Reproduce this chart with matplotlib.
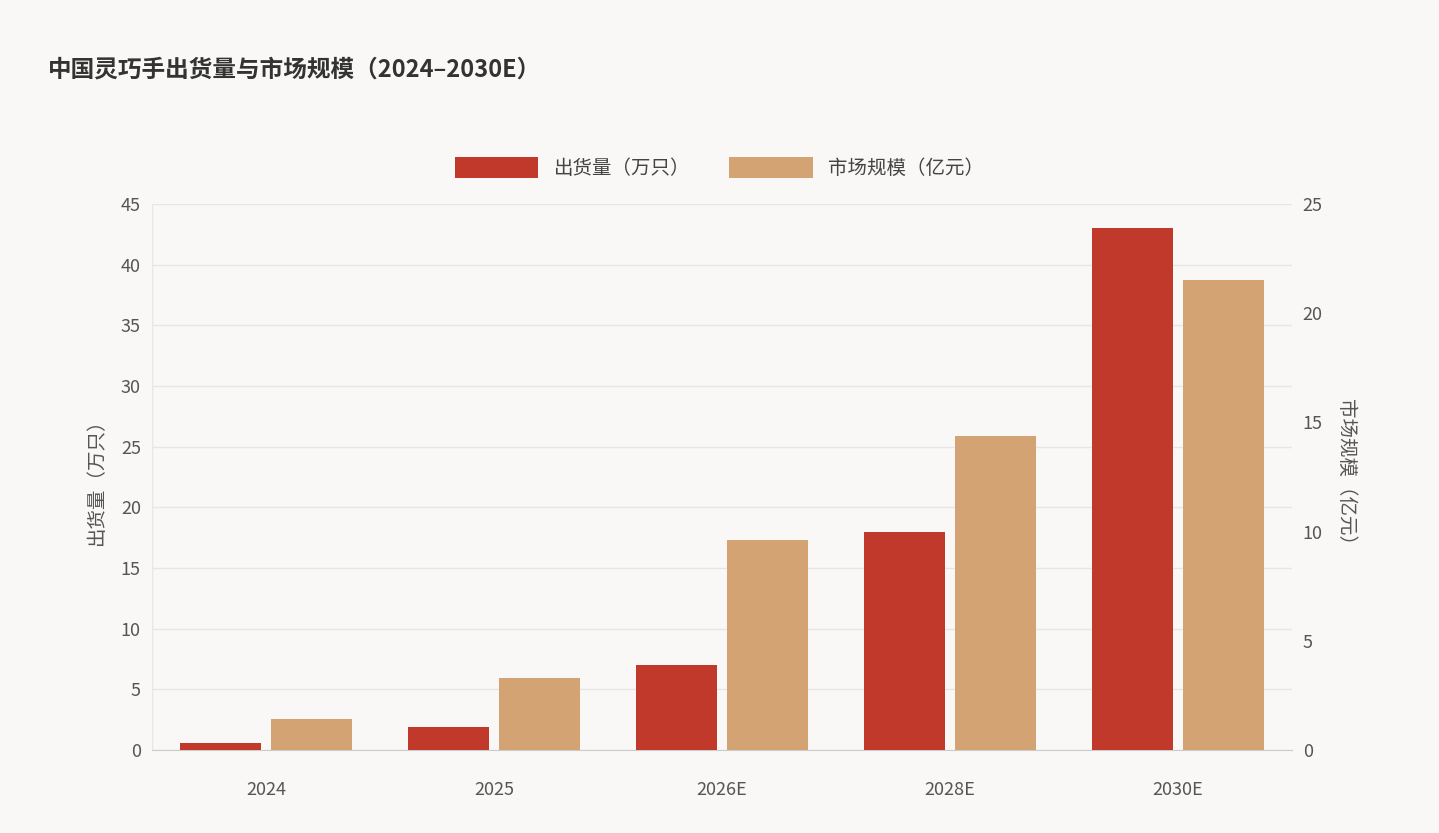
import matplotlib
matplotlib.use("Agg")
import matplotlib.pyplot as plt
import numpy as np
from matplotlib.patches import FancyBboxPatch

plt.rcParams['font.family'] = ['Noto Sans CJK SC', 'DejaVu Sans']

years = ["2024", "2025", "2026E", "2028E", "2030E"]
shipments = [0.6, 1.9, 7.0, 18.0, 43.0]
market = [1.4, 3.3, 9.6, 14.4, 21.5]

red = "#C0392B"
tan = "#D4A373"
bg = "#F9F8F6"

fig = plt.figure(figsize=(14.39, 8.33), dpi=100, facecolor=bg)
ax = fig.add_axes([0.1056, 0.0996, 0.792, 0.6555], facecolor=bg)
ax2 = ax.twinx()

x = np.arange(len(years))
w = 0.355
b1 = ax.bar(x - 0.2, shipments, w, color=red, label="出货量（万只）", zorder=3)
b2 = ax2.bar(x + 0.2, market, w, color=tan, label="市场规模（亿元）", zorder=3)

ax.set_xlim(-0.5, 4.5)
ax.set_ylim(0, 45)
ax2.set_ylim(0, 25)
ax.set_yticks(range(0, 46, 5))
ax2.set_yticks(range(0, 26, 5))
ax.set_xticks(x)
ax.set_xticklabels(years)
ax.grid(axis='y', color="#E8E6E3", linewidth=1, zorder=0)
for a in (ax, ax2):
    for s in ("top", "right"):
        a.spines[s].set_visible(False)
    a.spines["left"].set_visible(False)
    a.tick_params(colors="#555555", labelsize=13, length=0, pad=8)
ax.spines["bottom"].set_color("#CCCCCC")
ax2.spines["bottom"].set_visible(False)
ax.axvline(-0.5, color="#E8E6E3", lw=1, zorder=0)
ax.tick_params(axis='x', pad=22)
ax.set_ylabel("出货量（万只）", fontsize=14, color="#555555", labelpad=10)
ax2.set_ylabel("市场规模（亿元）", fontsize=14, color="#555555", rotation=270, labelpad=24)

fig.text(0.033, 0.916, "中国灵巧手出货量与市场规模（2024–2030E）", fontsize=17, fontweight="bold", color="#333333", va="center")
fig.legend(handles=[b1, b2], loc="center", bbox_to_anchor=(0.5, 0.798), ncol=2, frameon=False,
           fontsize=14, handlelength=4.3, handleheight=1.3, columnspacing=2.0, labelcolor="#444444")

fig.savefig("out.png", dpi=100, facecolor=bg)
